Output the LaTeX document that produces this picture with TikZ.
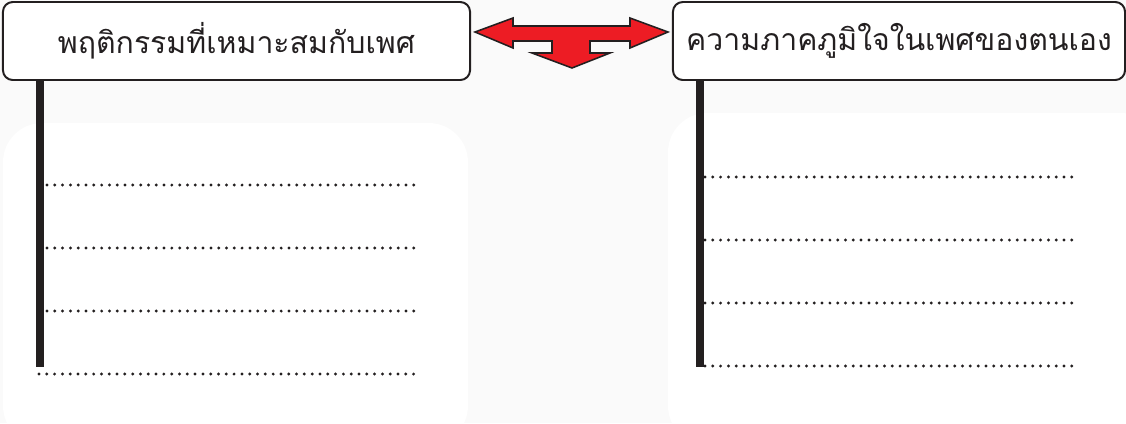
\documentclass[tikz,border=0pt]{standalone}
\usepackage{fontspec}
\newfontfamily\thaifont[Script=Thai]{Loma}
\usetikzlibrary{positioning}
\definecolor{ink}{HTML}{231F20}
\definecolor{arrowred}{HTML}{ED1C24}
\definecolor{paper}{HTML}{FAFAFA}

\tikzset{
  titlebox/.style={draw=ink, line width=1.4pt, rounded corners=7pt, fill=white,
    minimum height=1.95cm, inner sep=0pt, text=ink,
    font=\thaifont\fontsize{21.5}{26}\selectfont},
  stembar/.style={ink, line width=5.7pt},
  dotline/.style={ink, line width=2.3pt, line cap=round, dash pattern=on 0pt off 5.55pt},
}

\begin{document}
\begin{tikzpicture}[x=0.025cm, y=-0.025cm]
  \useasboundingbox[fill=paper] (0,0) rectangle (1126,423);
  % white writing panels
  \fill[white, rounded corners=28pt] (3,123) rectangle (468,445);
  \fill[white, rounded corners=28pt] (668,113) rectangle (1160,445);
  % headings
  \node[titlebox, minimum width=11.675cm] (behave) at (236.5,41) {พฤติกรรมที่เหมาะสมกับเพศ};
  \node[titlebox, minimum width=11.3cm] (pride) at (899,41) {ความภาคภูมิใจในเพศของตนเอง};
  % three-way arrow between the headings
  \filldraw[fill=arrowred, draw=ink, line width=1.1pt, line join=miter]
    (475,32) -- (513,18) -- (513,26) -- (630,26) -- (630,18) -- (668,32)
    -- (630,48) -- (630,41) -- (590,41) -- (590,53) -- (610,53) -- (572,68)
    -- (532,53) -- (552,53) -- (552,41) -- (513,41) -- (513,48) -- cycle;
  % bars hanging under the headings
  \coordinate (lbar) at (40,367);
  \coordinate (rbar) at (700,367);
  \draw[stembar] (behave.south -| lbar) -- (lbar);
  \draw[stembar] (pride.south -| rbar) -- (rbar);
  % dotted lines to write on
  \foreach \y in {185,248,311}
    \draw[dotline] (47,\y) -- (415,\y);
  \draw[dotline] (39,374) -- (415,374);
  \foreach \y in {177,240,303,366}
    \draw[dotline] (705,\y) -- (1078,\y);
\end{tikzpicture}
\end{document}
